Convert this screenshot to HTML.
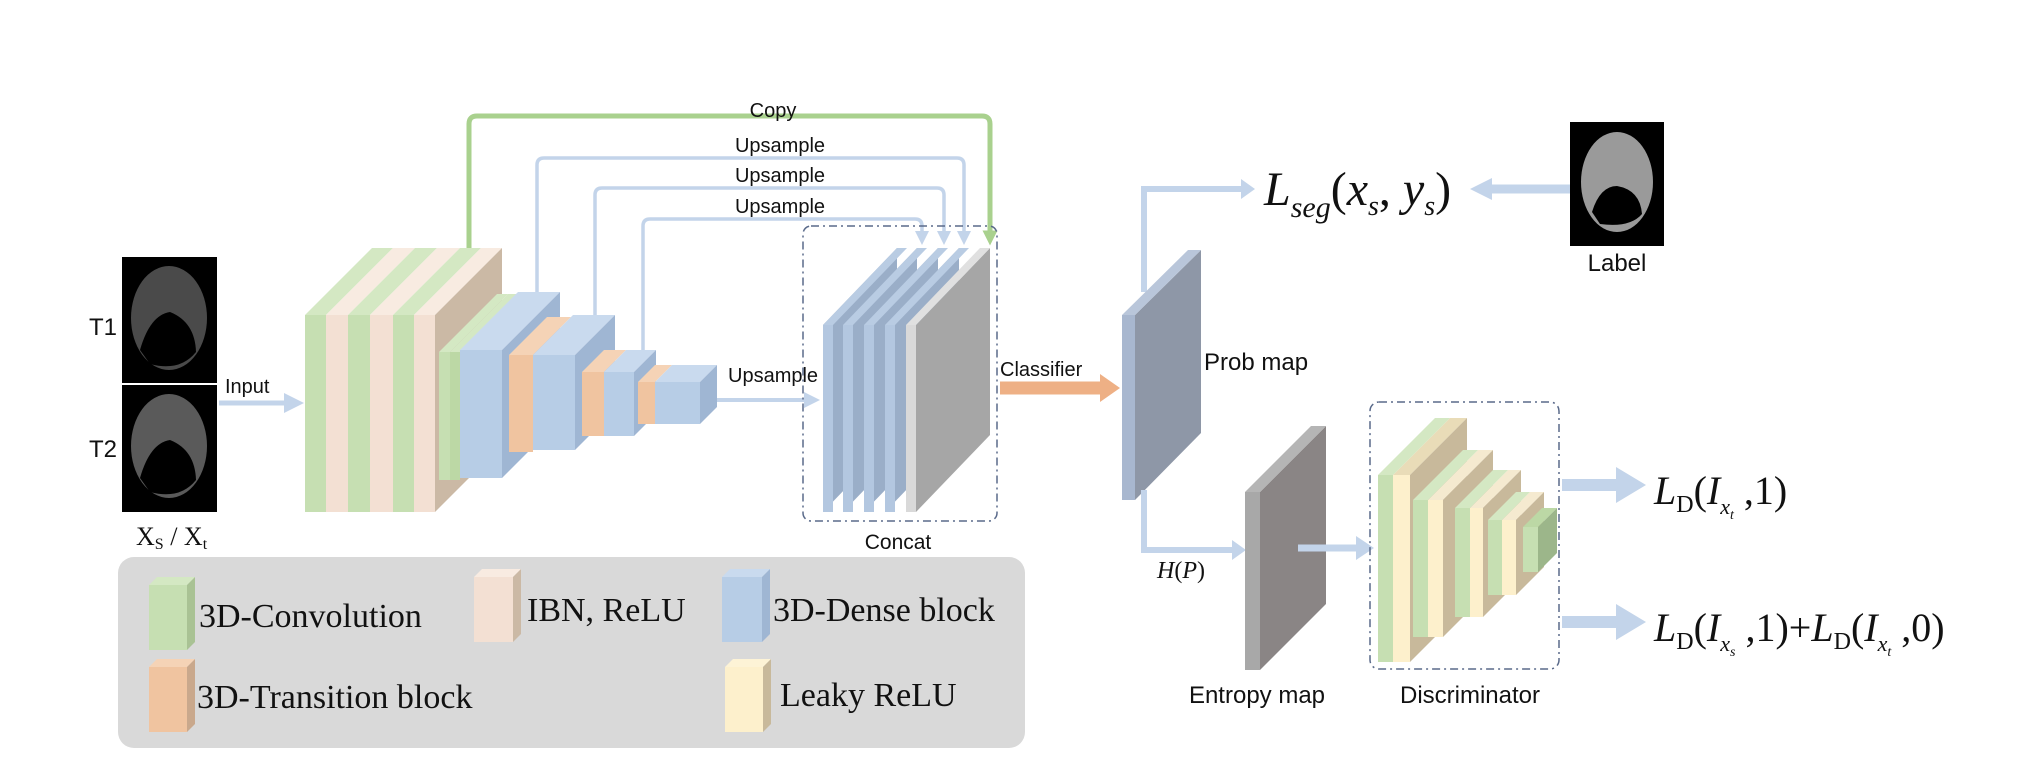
<!DOCTYPE html>
<html><head><meta charset="utf-8"><style>
html,body{margin:0;padding:0;background:#fff;}
svg{display:block;}
.s{font-family:"Liberation Sans",sans-serif;fill:#111;}
.r{font-family:"Liberation Serif",serif;fill:#111;}
</style></head><body>
<svg width="2030" height="784" viewBox="0 0 2030 784" xmlns="http://www.w3.org/2000/svg">
<defs>
<marker id="ab" markerWidth="4" markerHeight="4" refX="2" refY="2" orient="auto" markerUnits="strokeWidth"><path d="M0,0 L4,2 L0,4 z" fill="#c3d4ea"/></marker>
<marker id="ag" markerWidth="3" markerHeight="3" refX="1.5" refY="1.5" orient="auto" markerUnits="strokeWidth"><path d="M0,0 L3,1.5 L0,3 z" fill="#a9d18e"/></marker>
</defs>
<rect width="2030" height="784" fill="#fff"/>

<!-- input images -->
<rect x="122" y="257" width="95" height="126" fill="#000"/>
<ellipse cx="169" cy="318" rx="38" ry="52" fill="#4a4a4a"/>
<path d="M140,350 Q150,315 170,312 Q195,322 196,352 Q180,372 150,364 z" fill="#000"/>
<rect x="122" y="385" width="95" height="127" fill="#000"/>
<ellipse cx="169" cy="446" rx="38" ry="52" fill="#5a5a5a"/>
<path d="M140,478 Q150,443 170,440 Q195,450 196,480 Q180,500 150,492 z" fill="#000"/>
<text class="s" x="89" y="335" font-size="24">T1</text>
<text class="s" x="89" y="457" font-size="24">T2</text>
<text class="r" x="136" y="545" font-size="26">X<tspan font-size="16" dy="4">S</tspan><tspan dy="-4"> / X</tspan><tspan font-size="16" dy="4">t</tspan></text>

<!-- input arrow -->
<text class="s" x="225" y="393" font-size="20">Input</text>
<line x1="219" y1="403" x2="294" y2="403" stroke="#c3d4ea" stroke-width="5" marker-end="url(#ab)"/>

<!-- skip connections -->
<path d="M469,250 V124 Q469,116 477,116 H982 Q990,116 990,124 V238" fill="none" stroke="#a9d18e" stroke-width="5" marker-end="url(#ag)"/>
<path d="M537,292 V165 Q537,158 544,158 H957 Q964,158 964,165 V238" fill="none" stroke="#c3d4ea" stroke-width="3.5" marker-end="url(#ab)"/>
<path d="M595,318 V195 Q595,188 602,188 H937 Q944,188 944,195 V238" fill="none" stroke="#c3d4ea" stroke-width="3.5" marker-end="url(#ab)"/>
<path d="M643,352 V226 Q643,219 650,219 H915 Q922,219 922,226 V238" fill="none" stroke="#c3d4ea" stroke-width="3.5" marker-end="url(#ab)"/>
<text class="s" x="773" y="117" font-size="20" text-anchor="middle">Copy</text>
<text class="s" x="780" y="152" font-size="20" text-anchor="middle">Upsample</text>
<text class="s" x="780" y="182" font-size="20" text-anchor="middle">Upsample</text>
<text class="s" x="780" y="213" font-size="20" text-anchor="middle">Upsample</text>

<!-- encoder slabs (d=67) -->
<g>
<polygon points="305,315 372,248 393,248 326,315" fill="#d4e8c3"/><rect x="305" y="315" width="21" height="197" fill="#c6dfb2"/>
<polygon points="326,315 393,248 415,248 348,315" fill="#f8ebe1"/><rect x="326" y="315" width="22" height="197" fill="#f3e0d3"/>
<polygon points="348,315 415,248 437,248 370,315" fill="#d4e8c3"/><rect x="348" y="315" width="22" height="197" fill="#c6dfb2"/>
<polygon points="370,315 437,248 460,248 393,315" fill="#f8ebe1"/><rect x="370" y="315" width="23" height="197" fill="#f3e0d3"/>
<polygon points="393,315 460,248 481,248 414,315" fill="#d4e8c3"/><rect x="393" y="315" width="21" height="197" fill="#c6dfb2"/>
<polygon points="414,315 481,248 502,248 435,315" fill="#f8ebe1"/><polygon points="435,315 502,248 502,445 435,512" fill="#cbb9a5"/><rect x="414" y="315" width="21" height="197" fill="#f3e0d3"/>
</g>
<!-- second group -->
<g>
<polygon points="439,352 497,294 508,294 450,352" fill="#d4e8c3"/><rect x="439" y="352" width="11" height="128" fill="#c6dfb2"/>
<polygon points="450,352 508,294 518,294 460,352" fill="#d4e8c3"/><rect x="450" y="352" width="10" height="128" fill="#bcd8a5"/>
<polygon points="460,350 518,292 560,292 502,350" fill="#c9daee"/><polygon points="502,350 560,292 560,420 502,478" fill="#9fb6d3"/><rect x="460" y="350" width="42" height="128" fill="#b7cde6"/>
<polygon points="509,355 547,317 571,317 533,355" fill="#f5d3b6"/><rect x="509" y="355" width="24" height="97" fill="#f0c4a0"/>
<polygon points="533,355 573,315 615,315 575,355" fill="#c9daee"/><polygon points="575,355 615,315 615,410 575,450" fill="#9fb6d3"/><rect x="533" y="355" width="42" height="95" fill="#b7cde6"/>
<polygon points="582,372 604,350 626,350 604,372" fill="#f5d3b6"/><rect x="582" y="372" width="22" height="64" fill="#f0c4a0"/>
<polygon points="604,372 626,350 656,350 634,372" fill="#c9daee"/><polygon points="634,372 656,350 656,414 634,436" fill="#9fb6d3"/><rect x="604" y="372" width="30" height="64" fill="#b7cde6"/>
<polygon points="638,382 655,365 672,365 655,382" fill="#f5d3b6"/><rect x="638" y="382" width="17" height="42" fill="#f0c4a0"/>
<polygon points="655,382 672,365 717,365 700,382" fill="#c9daee"/><polygon points="700,382 717,365 717,407 700,424" fill="#9fb6d3"/><rect x="655" y="382" width="45" height="42" fill="#b7cde6"/>
</g>

<!-- upsample to concat -->
<line x1="717" y1="400" x2="812" y2="400" stroke="#c3d4ea" stroke-width="4" marker-end="url(#ab)"/>
<text class="s" x="728" y="382" font-size="20">Upsample</text>

<!-- concat -->
<rect x="803" y="226" width="194" height="295" rx="8" fill="none" stroke="#5a6a8a" stroke-width="1.5" stroke-dasharray="8,4,2,4"/>
<g>
<polygon points="823,325 897,248 897,435 823,512" fill="#9aaec8"/><polygon points="823,325 897,248 907,248 833,325" fill="#b9cce3"/><rect x="823" y="325" width="10" height="187" fill="#b3c7e0"/>
<polygon points="843,325 917,248 917,435 843,512" fill="#9aaec8"/><polygon points="843,325 917,248 927,248 853,325" fill="#b9cce3"/><rect x="843" y="325" width="10" height="187" fill="#b3c7e0"/>
<polygon points="864,325 938,248 938,435 864,512" fill="#9aaec8"/><polygon points="864,325 938,248 948,248 874,325" fill="#b9cce3"/><rect x="864" y="325" width="10" height="187" fill="#b3c7e0"/>
<polygon points="885,325 959,248 959,435 885,512" fill="#9aaec8"/><polygon points="885,325 959,248 969,248 895,325" fill="#b9cce3"/><rect x="885" y="325" width="10" height="187" fill="#b3c7e0"/>
<polygon points="916,325 990,248 990,435 916,512" fill="#a6a6a6"/><polygon points="906,325 980,248 990,248 916,325" fill="#e0e0e0"/><rect x="906" y="325" width="10" height="187" fill="#d9d9d9"/>
</g>
<text class="s" x="898" y="549" font-size="21" text-anchor="middle">Concat</text>

<!-- classifier -->
<text class="s" x="1000" y="376" font-size="20">Classifier</text>
<line x1="1000" y1="388" x2="1102" y2="388" stroke="#eeb085" stroke-width="13"/>
<polygon points="1100,374 1120,388 1100,402" fill="#eeb085"/>

<!-- seg branch -->
<path d="M1144,292 V189 H1245" fill="none" stroke="#c3d4ea" stroke-width="6"/>
<polygon points="1241,179 1255,189 1241,199" fill="#c3d4ea"/>
<!-- prob map -->
<polygon points="1135,315 1201,250 1201,433 1135,500" fill="#8e97a7"/>
<polygon points="1122,315 1188,250 1201,250 1135,315" fill="#b9c6da"/>
<rect x="1122" y="315" width="13" height="185" fill="#a8b7cf"/>
<text class="s" x="1204" y="370" font-size="24">Prob map</text>

<text class="r" x="1264" y="205" font-size="48" font-style="italic">L<tspan font-size="30" dy="12">seg</tspan><tspan dy="-12" font-style="normal">(</tspan>x<tspan font-size="28" dy="10">s</tspan><tspan dy="-10" font-style="normal">, </tspan>y<tspan font-size="28" dy="10">s</tspan><tspan dy="-10" font-style="normal">)</tspan></text>
<line x1="1570" y1="189" x2="1490" y2="189" stroke="#c3d4ea" stroke-width="9"/>
<polygon points="1492,178 1470,189 1492,200" fill="#c3d4ea"/>
<rect x="1570" y="122" width="94" height="124" fill="#000"/>
<ellipse cx="1617" cy="182" rx="36" ry="50" fill="#9a9a9a"/>
<path d="M1592,212 Q1600,186 1617,186 Q1640,190 1642,214 Q1630,228 1600,224 z" fill="#000"/>
<text class="s" x="1617" y="271" font-size="24" text-anchor="middle">Label</text>

<!-- entropy -->
<path d="M1144,490 V550 H1235" fill="none" stroke="#c3d4ea" stroke-width="6"/>
<polygon points="1232,540 1246,550 1232,560" fill="#c3d4ea"/>
<text class="r" x="1157" y="578" font-size="24" font-style="italic">H<tspan font-style="normal">(</tspan>P<tspan font-style="normal">)</tspan></text>
<polygon points="1260,492 1326,426 1326,604 1260,670" fill="#8a8585"/>
<polygon points="1245,492 1311,426 1326,426 1260,492" fill="#b5b5b5"/>
<rect x="1245" y="492" width="15" height="178" fill="#a8a8a8"/>
<text class="s" x="1257" y="703" font-size="24" text-anchor="middle">Entropy map</text>
<line x1="1298" y1="548" x2="1360" y2="548" stroke="#c3d4ea" stroke-width="7"/>
<polygon points="1356,536 1374,548 1356,560" fill="#c3d4ea"/>

<!-- discriminator -->
<rect x="1370" y="402" width="189" height="267" rx="9" fill="none" stroke="#5a6a8a" stroke-width="1.5" stroke-dasharray="8,4,2,4"/>
<g>
<polygon points="1393,475 1450,418 1467,418 1410,475" fill="#e9dcb8"/>
<polygon points="1410,475 1467,418 1467,605 1410,662" fill="#c8b99b"/>
<polygon points="1378,475 1435,418 1450,418 1393,475" fill="#d4e8c3"/><rect x="1378" y="475" width="15" height="187" fill="#c6dfb2"/>
<rect x="1393" y="475" width="17" height="187" fill="#fdf0cc"/>
<polygon points="1428,500 1478,450 1493,450 1443,500" fill="#f5ead0"/>
<polygon points="1443,500 1493,450 1493,587 1443,637" fill="#c8b99b"/>
<polygon points="1413,500 1463,450 1478,450 1428,500" fill="#d4e8c3"/><rect x="1413" y="500" width="15" height="137" fill="#c6dfb2"/>
<rect x="1428" y="500" width="15" height="137" fill="#fdf0cc"/>
<polygon points="1470,508 1508,470 1521,470 1483,508" fill="#f5ead0"/>
<polygon points="1483,508 1521,470 1521,579 1483,617" fill="#c8b99b"/>
<polygon points="1455,508 1493,470 1508,470 1470,508" fill="#d4e8c3"/><rect x="1455" y="508" width="15" height="109" fill="#c6dfb2"/>
<rect x="1470" y="508" width="13" height="109" fill="#fdf0cc"/>
<polygon points="1502,520 1530,492 1544,492 1516,520" fill="#f5ead0"/>
<polygon points="1516,520 1544,492 1544,567 1516,595" fill="#c8b99b"/>
<polygon points="1488,520 1516,492 1530,492 1502,520" fill="#d4e8c3"/><rect x="1488" y="520" width="14" height="75" fill="#c6dfb2"/>
<rect x="1502" y="520" width="14" height="75" fill="#fdf0cc"/>
<polygon points="1523,527 1542,508 1557,508 1538,527" fill="#bcd8a5"/>
<polygon points="1538,527 1557,508 1557,553 1538,572" fill="#9cb68a"/>
<rect x="1523" y="527" width="15" height="45" fill="#c6dfb2"/>
</g>
<text class="s" x="1470" y="703" font-size="24" text-anchor="middle">Discriminator</text>

<!-- outputs -->
<line x1="1562" y1="485" x2="1620" y2="485" stroke="#c3d4ea" stroke-width="12"/>
<polygon points="1616,467 1646,485 1616,503" fill="#c3d4ea"/>
<line x1="1562" y1="622" x2="1620" y2="622" stroke="#c3d4ea" stroke-width="12"/>
<polygon points="1616,604 1646,622 1616,640" fill="#c3d4ea"/>
<text class="r" x="1654" y="504" font-size="40"><tspan font-style="italic">L</tspan><tspan font-size="24" dy="8">D</tspan><tspan dy="-8">(</tspan><tspan font-style="italic">I</tspan><tspan font-size="22" font-style="italic" dy="10">x</tspan><tspan font-size="14" font-style="italic" dy="5">t</tspan><tspan dy="-15"> ,1)</tspan></text>
<text class="r" x="1654" y="641" font-size="40"><tspan font-style="italic">L</tspan><tspan font-size="24" dy="8">D</tspan><tspan dy="-8">(</tspan><tspan font-style="italic">I</tspan><tspan font-size="22" font-style="italic" dy="10">x</tspan><tspan font-size="14" font-style="italic" dy="5">s</tspan><tspan dy="-15"> ,1)+</tspan><tspan font-style="italic">L</tspan><tspan font-size="24" dy="8">D</tspan><tspan dy="-8">(</tspan><tspan font-style="italic">I</tspan><tspan font-size="22" font-style="italic" dy="10">x</tspan><tspan font-size="14" font-style="italic" dy="5">t</tspan><tspan dy="-15"> ,0)</tspan></text>

<!-- legend -->
<rect x="118" y="557" width="907" height="191" rx="16" fill="#d9d9d9"/>
<g>
<polygon points="149,585 157,577 195,577 187,585" fill="#d4e8c3"/><polygon points="187,585 195,577 195,642 187,650" fill="#a9c294"/><rect x="149" y="585" width="38" height="65" fill="#c6dfb2"/>
<polygon points="474,577 482,569 521,569 513,577" fill="#f8ebe1"/><polygon points="513,577 521,569 521,634 513,642" fill="#cbb9a5"/><rect x="474" y="577" width="39" height="65" fill="#f3e0d3"/>
<polygon points="722,577 730,569 770,569 762,577" fill="#c9daee"/><polygon points="762,577 770,569 770,634 762,642" fill="#9fb6d3"/><rect x="722" y="577" width="40" height="65" fill="#b7cde6"/>
<polygon points="149,667 157,659 195,659 187,667" fill="#f5d3b6"/><polygon points="187,667 195,659 195,724 187,732" fill="#c9a88c"/><rect x="149" y="667" width="38" height="65" fill="#f0c4a0"/>
<polygon points="725,667 733,659 771,659 763,667" fill="#fdf3d6"/><polygon points="763,667 771,659 771,724 763,732" fill="#c8b99b"/><rect x="725" y="667" width="38" height="65" fill="#fdf0cc"/>
</g>
<text class="r" x="199" y="627" font-size="34">3D-Convolution</text>
<text class="r" x="527" y="621" font-size="34">IBN, ReLU</text>
<text class="r" x="773" y="621" font-size="34">3D-Dense block</text>
<text class="r" x="197" y="708" font-size="34">3D-Transition block</text>
<text class="r" x="780" y="706" font-size="34">Leaky ReLU</text>
</svg>
</body></html>
